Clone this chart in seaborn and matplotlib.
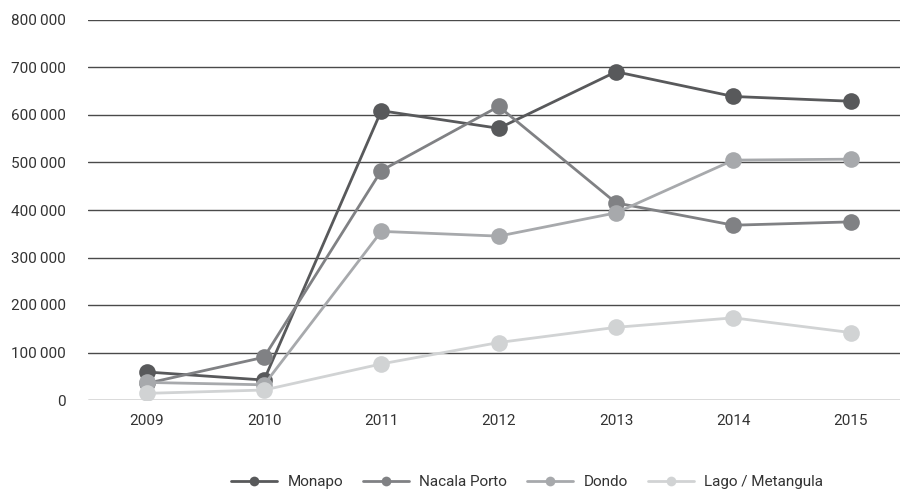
import matplotlib
matplotlib.use("Agg")
import matplotlib.pyplot as plt
import matplotlib.font_manager as fm
import seaborn as sns
import pandas as pd
from matplotlib.ticker import FuncFormatter
from matplotlib.lines import Line2D

years = ["2009", "2010", "2011", "2012", "2013", "2014", "2015"]
monapo = [59000, 42000, 609000, 572000, 691000, 639000, 629000]
nacala_porto = [35000, 90000, 483000, 618000, 415000, 368000, 375000]
dondo = [37000, 32000, 355000, 345000, 394000, 505000, 507000]
lago_metangula = [14000, 21000, 76000, 121000, 153000, 173000, 142000]

series_names = ["Monapo", "Nacala Porto", "Dondo", "Lago / Metangula"]
series_values = [monapo, nacala_porto, dondo, lago_metangula]
colors = ["#58595b", "#808184", "#a7a9ac", "#d1d3d4"]

rows = []
for name, vals in zip(series_names, series_values):
    for i, (yr, v) in enumerate(zip(years, vals)):
        rows.append({"pos": i, "year": yr, "value": v, "series": name})
df = pd.DataFrame(rows)

sns.set_theme(style="white")
available = {f.name for f in fm.fontManager.ttflist}
family = "Liberation Sans Narrow" if "Liberation Sans Narrow" in available else "Roboto"
plt.rcParams["font.family"] = [family, "DejaVu Sans"]

fig = plt.figure(figsize=(9.04, 4.92), dpi=100)
ax = fig.add_axes([88 / 904, 92 / 492, 812 / 904, 380 / 492])

for v in range(0, 800001, 100000):
    ax.axhline(v, color="#4a4a4a", lw=1.0, zorder=0)

sns.lineplot(data=df, x="pos", y="value", hue="series", hue_order=series_names,
             palette=colors, marker="o", markersize=12, markeredgewidth=0,
             linewidth=2, legend=False, ax=ax, zorder=3)

ax.set_xlim(-0.5, 6.42)
ax.set_ylim(0, 800000)
ax.set_xticks(range(len(years)))
ax.set_xticklabels(years)
ax.set_yticks(range(0, 800001, 100000))
ax.yaxis.set_major_formatter(FuncFormatter(lambda v, p: f"{int(v):,}".replace(",", "\u2009") if v else "0"))
ax.tick_params(axis="both", length=0, labelsize=11, colors="#333333")
ax.tick_params(axis="x", pad=10)
ax.tick_params(axis="y", pad=16)
for s in ax.spines.values():
    s.set_visible(False)
ax.set_xlabel("")
ax.set_ylabel("")

handles = [Line2D([0], [0], color=c, lw=2, marker="o", markersize=7, markeredgewidth=0)
           for c in colors]
fig.legend(handles, series_names, loc="center", bbox_to_anchor=(527 / 904, 1 - 482 / 492),
           ncol=4, frameon=False, fontsize=11, handlelength=3.0, columnspacing=1.3,
           handletextpad=0.7, labelcolor="#333333")

fig.savefig("out.png", dpi=100)
